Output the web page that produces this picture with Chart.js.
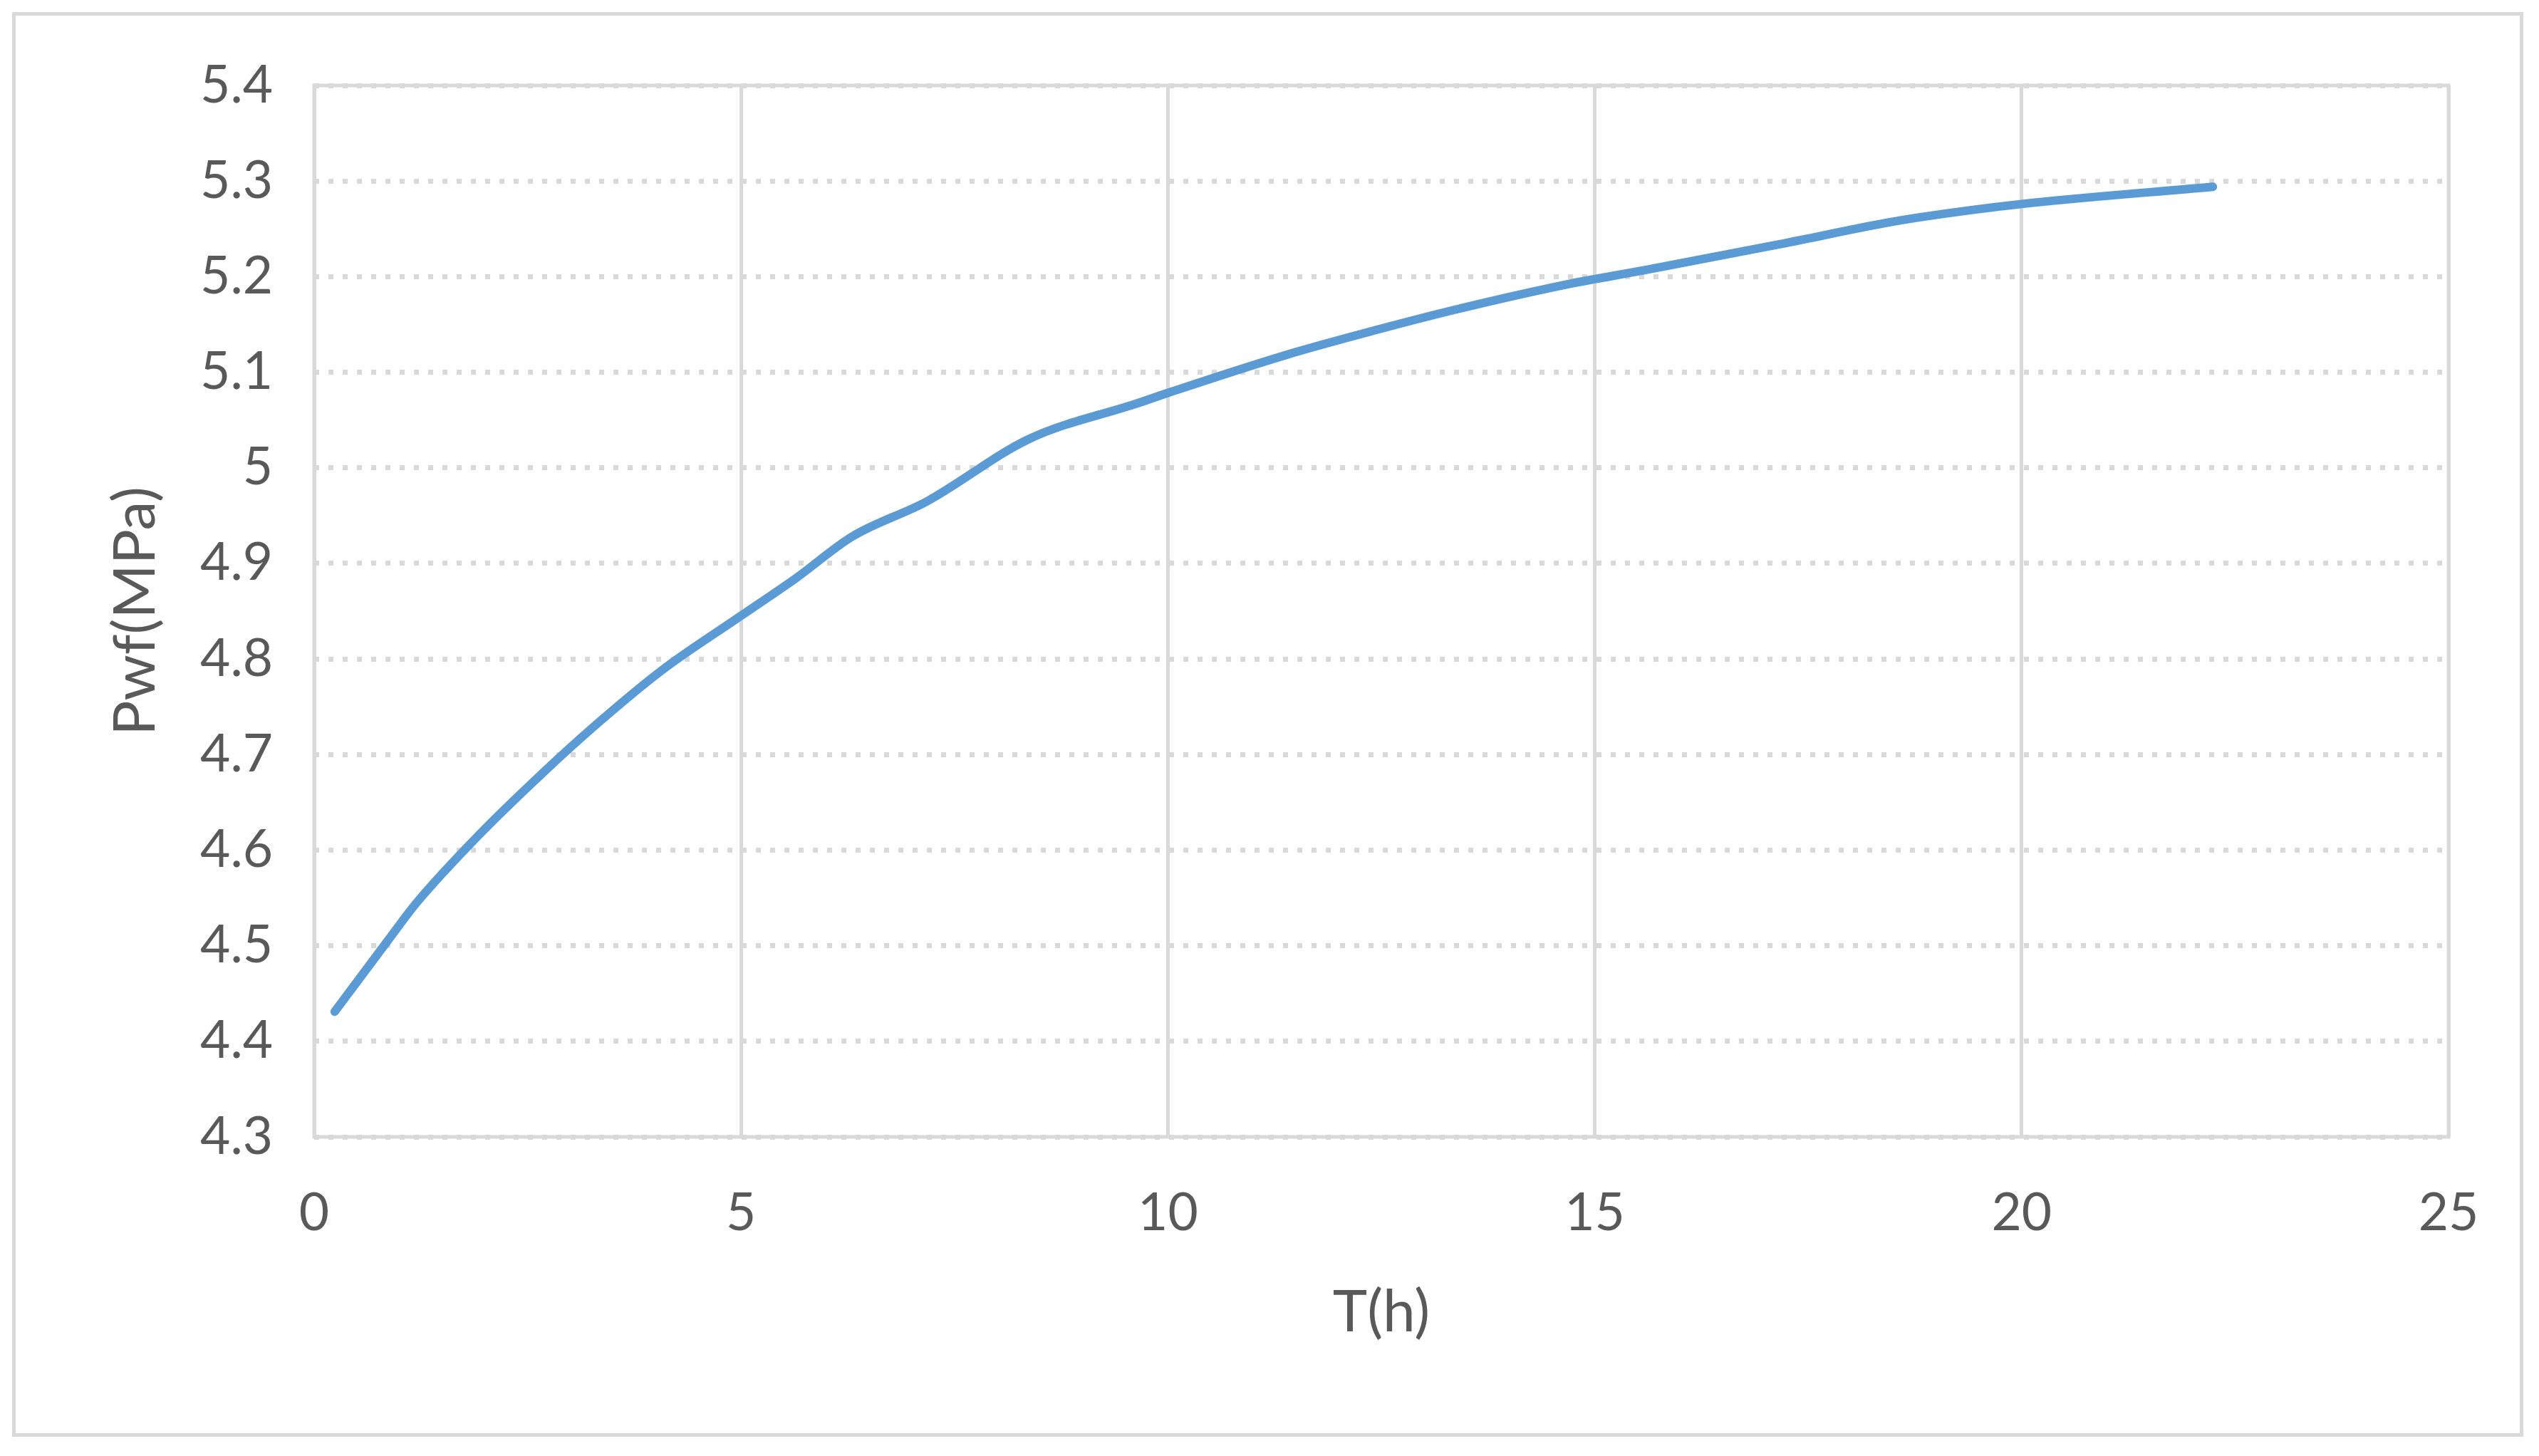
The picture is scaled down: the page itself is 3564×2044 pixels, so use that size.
<!DOCTYPE html>
<html>
<head>
<meta charset="utf-8">
<script src="https://cdn.jsdelivr.net/npm/chart.js@4.4.1/dist/chart.umd.min.js"></script>
<style>
  html, body { margin: 0; padding: 0; background: #ffffff; }
  #wrap { position: relative; width: 3564px; height: 2044px; }
</style>
</head>
<body>
<div id="wrap"><canvas id="c"></canvas></div>
<script>
// ---- data ----
const timeHours = [0.24, 0.86, 1.2, 1.92, 2.68, 3.35, 4.07, 4.98, 5.65, 6.3, 7.18, 8.37, 9.66, 10.02, 11.38, 12.43, 13.39, 14.68, 15.6, 17.23, 18.4, 18.8, 20.0, 22.24];
const pwfMPa    = [4.431, 4.505, 4.545, 4.615, 4.681, 4.735, 4.788, 4.844, 4.885, 4.928, 4.965, 5.030, 5.068, 5.079, 5.118, 5.144, 5.166, 5.192, 5.207, 5.235, 5.256, 5.262, 5.276, 5.294];
const xTickValues = [0, 5, 10, 15, 20, 25];
const yTickValues = [4.3, 4.4, 4.5, 4.6, 4.7, 4.8, 4.9, 5.0, 5.1, 5.2, 5.3, 5.4];
const xTitle = 'T(h)';
const yTitle = 'Pwf(MPa)';

const points = timeHours.map((t, i) => ({ x: t, y: pwfMPa[i] }));

const GRID = '#d9d9d9';
const TEXT = '#595959';
const FONT = 'Lato';

const framePlugin = {
  id: 'frames',
  beforeDraw(chart) {
    const ctx = chart.ctx;
    ctx.save();
    ctx.strokeStyle = GRID;
    ctx.lineWidth = 5;
    ctx.strokeRect(19.5, 19.5, 3520, 1995);
    ctx.restore();
  },
  beforeDatasetsDraw(chart) {
    const a = chart.chartArea;
    const ctx = chart.ctx;
    ctx.save();
    ctx.strokeStyle = GRID;
    ctx.lineWidth = 5;
    ctx.setLineDash([]);
    ctx.strokeRect(a.left, a.top, a.right - a.left, a.bottom - a.top);
    ctx.restore();
  }
};

new Chart(document.getElementById('c'), {
  type: 'scatter',
  data: {
    datasets: [{
      data: points,
      showLine: true,
      borderColor: '#5b9bd5',
      backgroundColor: '#5b9bd5',
      borderWidth: 12,
      borderCapStyle: 'round',
      borderJoinStyle: 'round',
      pointRadius: 0,
      pointHoverRadius: 0,
      cubicInterpolationMode: 'monotone',
      clip: false
    }]
  },
  options: {
    responsive: true,
    maintainAspectRatio: false,
    animation: false,
    events: [],
    layout: { padding: { top: 120, right: 127, bottom: 0, left: 0 } },
    plugins: { legend: { display: false }, tooltip: { enabled: false } },
    scales: {
      x: {
        type: 'linear',
        min: 0, max: 25,
        afterFit(scale) { scale.height = 448; },
        afterBuildTicks(scale) { scale.ticks = xTickValues.map(v => ({ value: v })); },
        grid: { color: GRID, lineWidth: 5, drawTicks: false },
        border: { display: false },
        ticks: {
          color: TEXT, padding: 64,
          font: { family: FONT, size: 73 },
          callback: v => String(v)
        },
        title: {
          display: true, text: xTitle, color: TEXT,
          font: { family: FONT, size: 82 },
          padding: { top: 0, bottom: 152 }
        }
      },
      y: {
        type: 'linear',
        min: 4.3, max: 5.4,
        afterFit(scale) { scale.width = 441; },
        afterBuildTicks(scale) { scale.ticks = yTickValues.map(v => ({ value: v })); },
        grid: { color: GRID, lineWidth: 7, drawTicks: false },
        border: { display: false, dash: [7, 13] },
        ticks: {
          color: TEXT, padding: 58,
          font: { family: FONT, size: 73 },
          callback: v => String(Math.round(v * 10) / 10)
        },
        title: {
          display: true, text: yTitle, color: TEXT,
          font: { family: FONT, size: 82 },
          padding: { top: 141, bottom: 0 }
        }
      }
    }
  },
  plugins: [framePlugin]
});
</script>
</body>
</html>
